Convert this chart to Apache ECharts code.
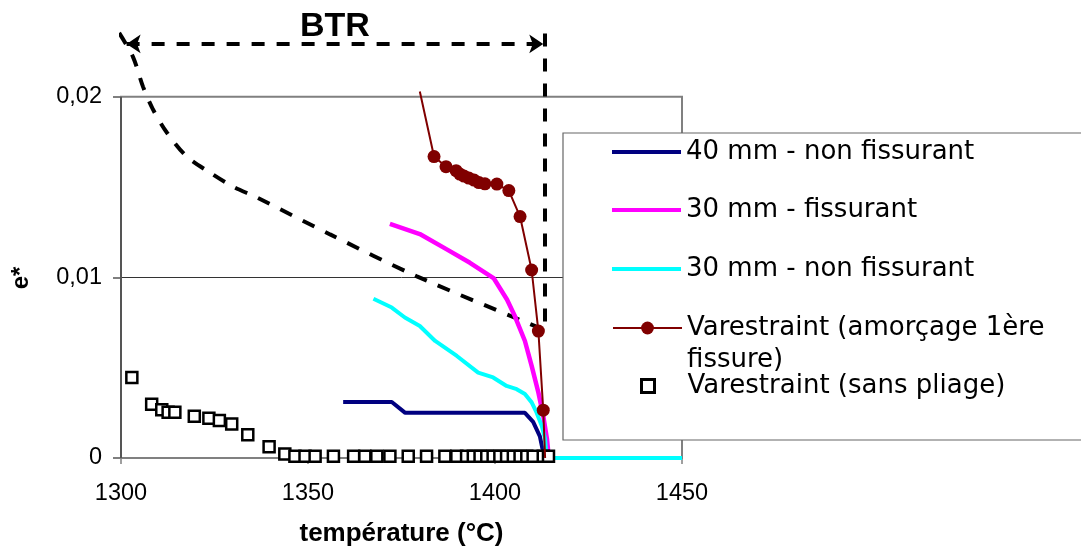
<!DOCTYPE html>
<html><head><meta charset="utf-8">
<script src="https://cdn.jsdelivr.net/npm/echarts@6/dist/echarts.min.js"></script>
<style>html,body{margin:0;padding:0;background:#fff}#c{width:1081px;height:552px}</style>
</head><body><div id="c"></div>
<script>
// ---- data (temperature °C, e*) ----
const seriesNames = ['40 mm - non fissurant', '30 mm - fissurant', '30 mm - non fissurant',
  'Varestraint (amorçage 1ère fissure)', 'Varestraint (sans pliage)'];
const xTickValues = [1300, 1350, 1400, 1450];
const yTickValues = [0, 0.01, 0.02];

const mm40NonFiss = [[1359.4,0.0031],[1372.4,0.0031],[1376,0.0025],[1408,0.0025],[1410.2,0.002],[1412,0.0012],[1412.8,0.0004],[1413.4,0]];
const mm30Fiss = [[1371.9,0.01296],[1379.9,0.0124],[1387.1,0.01155],[1393.3,0.01081],[1399.7,0.00994],[1403.2,0.00878],[1405.3,0.00786],[1408,0.00648],[1409.8,0.0051],[1411.6,0.00363],[1412.9,0.00234],[1413.9,0.00105],[1414.4,0]];
const mm30NonFiss = [[1367.5,0.00882],[1372.4,0.00833],[1375.9,0.00778],[1379.9,0.00731],[1384,0.00648],[1389.8,0.00565],[1395.5,0.00473],[1399.5,0.00446],[1403.1,0.00399],[1405.8,0.00381],[1408,0.00354],[1409.8,0.00308],[1411.1,0.00252],[1412.5,0.00178],[1413.4,0.00105],[1413.8,0],[1450,0]];
const varAmorcage = [[1379.9,0.02029],[1383.7,0.01669],[1386.9,0.01613],[1389.6,0.01591],[1390.6,0.01572],[1391.7,0.01561],[1393,0.0155],[1394.4,0.01539],[1395.7,0.01525],[1397.3,0.01518],[1400.5,0.01517],[1403.7,0.01481],[1406.7,0.01337],[1409.8,0.01041],[1411.6,0.00703],[1412.9,0.00265],[1413.4,0]];
const varAmorcageNoMarker = [0, 16]; // indices drawn without a marker
const varSansPliage = [[1302.9,0.00446],[1308.2,0.00298],[1310.9,0.00267],[1312.6,0.00253],[1314.4,0.00253],[1319.6,0.00231],[1323.5,0.0022],[1326.3,0.00207],[1329.6,0.00188],[1333.9,0.00129],[1339.6,0.00062],[1343.8,0.00022],
  [1346.5,0.0001],[1349.2,0.0001],[1351.9,0.0001],[1356.8,0.0001],[1362.2,0.0001],[1365.2,0.0001],[1368.4,0.0001],[1371.9,0.0001],[1376.8,0.0001],[1381.7,0.0001],[1386.6,0.0001],[1389.8,0.0001],[1392.4,0.0001],[1394.2,0.0001],[1396,0.0001],[1397.8,0.0001],[1399.5,0.0001],[1401.3,0.0001],[1403.1,0.0001],[1404.9,0.0001],[1406.7,0.0001],[1408.5,0.0001],[1410.2,0.0001],[1412.9,0.0001],[1414.3,0.0001]];
const btrCurve = [[1299.5,0.02354],[1303.2,0.02221],[1305.9,0.02055],[1308.6,0.01928],[1312.3,0.01801],[1317.6,0.01669],[1323.8,0.0158],[1329.9,0.01503],[1336.4,0.01442],[1355.9,0.01238],[1379.1,0.01006],[1412.8,0.00713]];
const btrArrowStart = [1301.5, 0.02293];
const btrArrowEnd = [1412.9, 0.02293];
const btrVerticalTop = [1413.4, 0.0235];
const btrVerticalBottom = [1413.4, 0.00713];
const plotFrame = [[1300, 0], [1450, 0.02]];
const gridLineValue = 0.01;

const FONT = '"Liberation Sans", Arial, sans-serif';
const LFONT = '"DejaVu Sans", sans-serif';
const chart = echarts.init(document.getElementById('c'), null, {renderer: 'canvas'});

const dashed = {color: '#000', width: 4, type: [13, 12]};
const legendBase = {padding: 0, selectedMode: false, z: 60, left: 612, itemWidth: 69,
  textStyle: {fontFamily: LFONT, fontSize: 26, color: '#000', lineHeight: 30}};

chart.setOption({
  animation: false,
  backgroundColor: '#fff',
  grid: {left: 121, right: 399, top: 6.5, bottom: 93},
  xAxis: {
    type: 'value', min: xTickValues[0], max: xTickValues[xTickValues.length - 1], interval: 50,
    axisLine: {show: true, lineStyle: {color: '#808080', width: 2}},
    axisTick: {show: true, length: 6, lineStyle: {color: '#808080', width: 1.5}},
    axisLabel: {margin: 24, fontSize: 23.5, color: '#000', fontFamily: FONT, formatter: v => String(v)},
    splitLine: {show: false},
    name: 'température (°C)', nameLocation: 'middle', nameGap: 63,
    nameTextStyle: {fontSize: 26, fontWeight: 'bold', color: '#000', fontFamily: FONT}
  },
  yAxis: {
    type: 'value', min: 0, max: 0.025,
    axisLine: {show: false},
    axisTick: {show: true, length: 8, customValues: yTickValues, lineStyle: {color: '#555', width: 1.5}},
    axisLabel: {customValues: yTickValues, margin: 19, fontSize: 23.5, color: '#000', fontFamily: FONT,
      formatter: v => v === 0 ? '0' : v.toFixed(2).replace('.', ',')},
    splitLine: {show: false}
  },
  legend: [
    Object.assign({}, legendBase, {top: 137, itemHeight: 4, icon: 'rect', data: [seriesNames[0]]}),
    Object.assign({}, legendBase, {top: 195, itemHeight: 4, icon: 'rect', data: [seriesNames[1]]}),
    Object.assign({}, legendBase, {top: 254, itemHeight: 4, icon: 'rect', data: [seriesNames[2]]}),
    Object.assign({}, legendBase, {top: 280, itemHeight: 16, data: [seriesNames[3]],
      formatter: () => '\nVarestraint (amorçage 1ère\nfissure)',
      textStyle: {fontFamily: LFONT, fontSize: 26, color: '#000', lineHeight: 32}}),
    Object.assign({}, legendBase, {left: 640, top: 371, itemWidth: 13, itemHeight: 13,
      data: [{name: seriesNames[4], icon: 'rect'}],
      itemStyle: {color: '#fff', borderColor: '#000', borderWidth: 3},
      textStyle: {fontFamily: LFONT, fontSize: 26, color: '#000', lineHeight: 30, padding: [0, 0, 0, 28]}})
  ],
  graphic: [
    {type: 'rect', z: 50, shape: {x: 563, y: 133, width: 540, height: 307},
      style: {fill: '#fff', stroke: '#666', lineWidth: 1.2}},
    {type: 'text', z: 50, x: 21, y: 278, rotation: Math.PI / 2,
      style: {text: 'e*', fontSize: 24, fontWeight: 'bold', fontFamily: FONT, fill: '#000', align: 'center', verticalAlign: 'middle'}}
  ],
  series: [
    {
      name: 'BTR', type: 'line', data: btrCurve, smooth: 0.3, showSymbol: false, symbol: 'none', clip: false,
      lineStyle: dashed, z: 3, silent: true,
      markArea: {silent: true, itemStyle: {color: 'rgba(0,0,0,0)', borderColor: '#808080', borderWidth: 2},
        data: [[{coord: plotFrame[0]}, {coord: plotFrame[1]}]]},
      markLine: {
        silent: true, symbol: ['none', 'none'], label: {show: false}, z: 1,
        data: [
          [{coord: [plotFrame[0][0], gridLineValue], lineStyle: {color: '#333', width: 1, type: 'solid'}},
           {coord: [plotFrame[1][0], gridLineValue]}],
          [{coord: plotFrame[0], lineStyle: {color: '#555', width: 2, type: 'solid'}},
           {coord: [plotFrame[0][0], plotFrame[1][1]]}],
          [{coord: btrVerticalTop, lineStyle: dashed}, {coord: btrVerticalBottom}],
          [{coord: btrArrowStart, symbol: 'arrow', symbolSize: 14, lineStyle: dashed,
            label: {show: true, position: 'middle', formatter: 'BTR', fontSize: 34, fontWeight: 'bold', color: '#000', fontFamily: FONT, distance: 0}},
           {coord: btrArrowEnd, symbol: 'arrow', symbolSize: 14}]
        ]
      }
    },
    {name: seriesNames[0], type: 'line', data: mm40NonFiss, color: '#000080', showSymbol: false, symbol: 'none', clip: false,
      lineStyle: {color: '#000080', width: 4}, z: 4},
    {name: seriesNames[1], type: 'line', data: mm30Fiss, color: '#ff00ff', showSymbol: false, symbol: 'none', clip: false,
      lineStyle: {color: '#ff00ff', width: 4.5}, z: 4},
    {name: seriesNames[2], type: 'line', data: mm30NonFiss, color: '#00ffff', showSymbol: false, symbol: 'none', clip: false,
      lineStyle: {color: '#00ffff', width: 4}, z: 4},
    {name: seriesNames[4], type: 'scatter', data: varSansPliage, symbol: 'rect', symbolSize: 11, clip: false,
      itemStyle: {color: '#fff', borderColor: '#000', borderWidth: 2.5, opacity: 1}, z: 5},
    {name: seriesNames[3], type: 'line', clip: false, color: '#800000',
      data: varAmorcage.map((p, i) => varAmorcageNoMarker.includes(i) ? {value: p, symbol: 'none'} : p),
      symbol: 'circle', symbolSize: 13, showAllSymbol: true,
      lineStyle: {color: '#800000', width: 2}, itemStyle: {color: '#800000'}, z: 6}
  ]
});
</script></body></html>
